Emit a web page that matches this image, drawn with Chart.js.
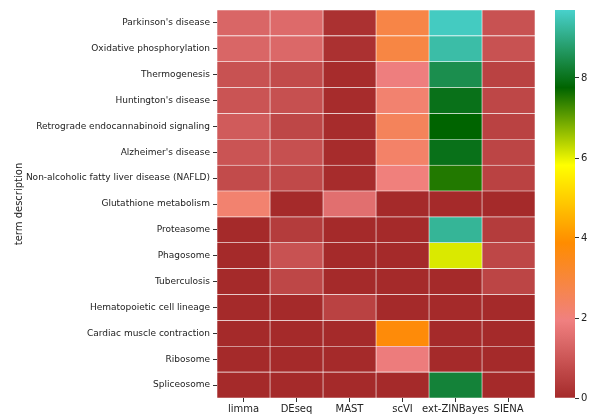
<!DOCTYPE html>
<html>
<head>
<meta charset="utf-8">
<script src="https://cdn.jsdelivr.net/npm/chart.js@4.4.1/dist/chart.umd.min.js"></script>
<style>
  body { margin: 0; background: #fff; }
  #wrap { position: relative; width: 590px; height: 414px; }
  #heat { position: absolute; left: 0; top: 0; }
  #cbar { position: absolute; left: 545px; top: 0; }
</style>
</head>
<body>
<div id="wrap">
  <canvas id="heat" width="545" height="414"></canvas>
  <canvas id="cbar" width="45" height="414"></canvas>
</div>
<script>
const terms = [
  "Parkinson's disease", "Oxidative phosphorylation", "Thermogenesis",
  "Huntington's disease", "Retrograde endocannabinoid signaling",
  "Alzheimer's disease", "Non-alcoholic fatty liver disease (NAFLD)",
  "Glutathione metabolism", "Proteasome", "Phagosome", "Tuberculosis",
  "Hematopoietic cell lineage", "Cardiac muscle contraction", "Ribosome",
  "Spliceosome"
];
const methods = ["limma", "DEseq", "MAST", "scVI", "ext-ZINBayes", "SIENA"];

// one column per method, rows in the order of terms
const limma = [1.35, 1.35, 0.9, 0.95, 1.1, 0.95, 0.75, 2.2, 0, 0, 0, 0, 0, 0, 0];
const deseq = [1.45, 1.4, 0.75, 0.85, 0.65, 0.85, 0.7, 0, 0.4, 0.9, 0.65, 0, 0, 0, 0];
const mast = [0.15, 0.15, 0.05, 0.05, 0.05, 0.05, 0.05, 1.55, 0, 0, 0, 0.55, 0, 0, 0];
const scvi = [2.8, 2.85, 1.9, 2.2, 2.5, 2.3, 2.0, 0, 0, 0, 0, 0, 3.75, 1.85, 0];
const zinb = [9.6, 9.35, 8.5, 8.0, 7.76, 8.0, 7.5, 0, 9.2, 6.1, 0, 0, 0, 0, 8.3];
const siena = [0.9, 0.9, 0.55, 0.65, 0.55, 0.6, 0.55, 0, 0.4, 0.65, 0.6, 0, 0, 0, 0];
const columns = [limma, deseq, mast, scvi, zinb, siena];

const vmax = 9.7;
const cbarTicks = [0, 2, 4, 6, 8];

// brown -> lightcoral -> darkorange -> yellow -> darkgreen -> mediumturquoise
const cmapColors = [[165, 42, 42], [240, 128, 128], [255, 140, 0],
                    [255, 255, 0], [0, 100, 0], [72, 209, 204]];

function cmap(v) {
  let t = Math.max(0, Math.min(1, v / vmax)) * (cmapColors.length - 1);
  let i = Math.min(Math.floor(t), cmapColors.length - 2);
  let f = t - i;
  let a = cmapColors[i], b = cmapColors[i + 1];
  let c = a.map((x, k) => Math.round(x + (b[k] - x) * f));
  return `rgb(${c[0]},${c[1]},${c[2]})`;
}

Chart.defaults.font.family = "'DejaVu Sans', sans-serif";
Chart.defaults.font.size = 10;
Chart.defaults.color = '#222';

new Chart('heat', {
  type: 'bar',
  data: {
    labels: terms,
    datasets: columns.map((col, i) => ({
      label: methods[i],
      data: col.map(() => 1),
      backgroundColor: col.map(v => cmap(v)),
      borderColor: '#fff',
      borderWidth: 0.6,
      borderSkipped: false,
      barPercentage: 1,
      categoryPercentage: 1
    }))
  },
  options: {
    indexAxis: 'y',
    responsive: false,
    animation: false,
    layout: { padding: { top: 10, right: 10, left: 0, bottom: 0 } },
    plugins: { legend: { display: false }, tooltip: { enabled: false } },
    scales: {
      x: {
        type: 'linear', stacked: true, min: 0, max: methods.length,
        afterBuildTicks: ax => { ax.ticks = methods.map((m, i) => ({ value: i + 0.5 })); },
        afterFit: ax => { ax.height = 16; },
        ticks: {
          autoSkip: false, maxRotation: 0, padding: 1,
          callback: (v) => methods[Math.floor(v)]
        },
        grid: { drawOnChartArea: false, drawTicks: true, tickLength: 4, color: '#333' },
        border: { display: false }
      },
      y: {
        stacked: true,
        afterFit: ax => { ax.width = 217; },
        ticks: { autoSkip: false, padding: 3, font: { size: 9 } },
        grid: { offset: false, drawOnChartArea: false, drawTicks: true, tickLength: 4, color: '#333' },
        border: { display: false },
        title: { display: true, text: 'term description', padding: { top: 13, bottom: 0 } }
      }
    }
  }
});

new Chart('cbar', {
  type: 'bar',
  data: {
    labels: [''],
    datasets: [{
      data: [[0, vmax]],
      backgroundColor: (ctx) => {
        const area = ctx.chart.chartArea;
        if (!area) return cmap(0);
        const g = ctx.chart.ctx.createLinearGradient(0, area.bottom, 0, area.top);
        for (let k = 0; k <= 40; k++) g.addColorStop(k / 40, cmap(vmax * k / 40));
        return g;
      },
      borderWidth: 0,
      barPercentage: 1,
      categoryPercentage: 1
    }]
  },
  options: {
    responsive: false,
    animation: false,
    layout: { padding: { top: 10, left: 10, bottom: 16, right: 0 } },
    plugins: { legend: { display: false }, tooltip: { enabled: false } },
    scales: {
      x: { display: false },
      y: {
        position: 'right', min: 0, max: vmax,
        afterBuildTicks: ax => { ax.ticks = cbarTicks.map(v => ({ value: v })); },
        afterFit: ax => { ax.width = 15; },
        ticks: { padding: 2 },
        grid: { drawOnChartArea: false, drawTicks: true, tickLength: 4, color: '#333' },
        border: { display: false }
      }
    }
  }
});
</script>
</body>
</html>
